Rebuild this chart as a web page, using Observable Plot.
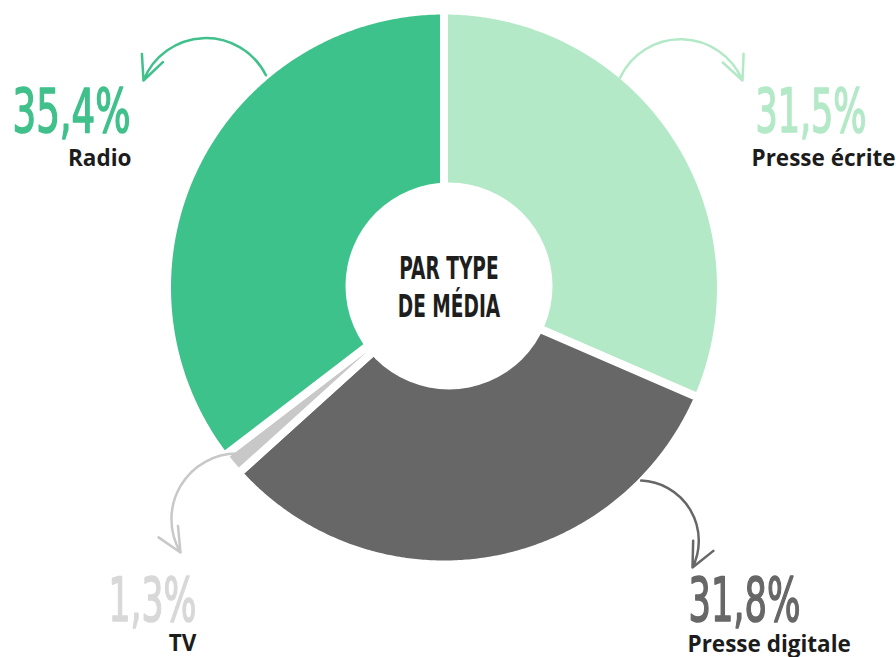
<!DOCTYPE html>
<html><head><meta charset="utf-8">
<script src="https://cdn.jsdelivr.net/npm/d3@7"></script>
<script src="https://cdn.jsdelivr.net/npm/@observablehq/plot@0.6"></script>
<style>html,body{margin:0;padding:0;background:#fff;} #chart svg{display:block}</style>
</head><body><div id="chart"></div>
<script>
// ---- data ----
const categories = ["Presse écrite", "Presse digitale", "TV", "Radio"];
const shares = [31.5, 31.8, 1.3, 35.4];
const shareLabels = ["31,5%", "31,8%", "1,3%", "35,4%"];
const sliceColors = ["#b3e9c7", "#676767", "#c8c8c8", "#3ec28b"];
const valueColors = ["#b3e9c7", "#676767", "#d8d8d8", "#40c08a"];
const arrowColors = ["#b3e9c7", "#676767", "#c8c8c8", "#40c08a"];
const centerTitle = "PAR TYPE\nDE MÉDIA";

// ---- layout ----
const W = 896, H = 657;
const cx = 443.5, cy = 287, R = 277, gap = 8;
const hole = {x: 448.5, y: 285.5, r: 103.5};
const layout = {
  "Presse écrite":   {a: 40,    r: 274, tip: [742, 80],  bend: 66,  nx: 755, lx: 751, anchor: "start", ny: 131, ly: 165, nw: 111},
  "Presse digitale": {a: 134.4, r: 276, tip: [692, 567], bend: 57,  nx: 688, lx: 687, anchor: "start", ny: 620, ly: 651, nw: 112},
  "TV":              {a: 231,   r: 264, tip: [180, 552], bend: -61, nx: 196, lx: 196, anchor: "end",   ny: 620, ly: 650, nw: 88},
  "Radio":           {a: 320,   r: 277, tip: [143, 80],  bend: -66, nx: 130, lx: 131, anchor: "end",   ny: 131, ly: 165, nw: 118}
};
const titleWidth = 103;

const arcs = d3.pie().sort(null).value(d => d)(shares);
const polar = (ang, r) => ({x: cx + r * Math.sin(ang), y: cy - r * Math.cos(ang)});

const marks = [];
arcs.forEach((arc, i) => {
  const pts = [{x: cx, y: cy}];
  const n = Math.max(4, Math.ceil((arc.endAngle - arc.startAngle) / (Math.PI / 360)));
  for (let k = 0; k <= n; k++) {
    pts.push(polar(arc.startAngle + (arc.endAngle - arc.startAngle) * k / n, R));
  }
  marks.push(Plot.line(pts, {x: "x", y: "y", fill: sliceColors[i], stroke: "white",
    strokeWidth: gap, curve: "linear-closed", strokeLinejoin: "round"}));
});
marks.push(Plot.dot([hole], {x: "x", y: "y", r: hole.r, fill: "white", stroke: "none"}));

categories.forEach((c, i) => {
  const L = layout[c];
  const s = polar(L.a * Math.PI / 180, L.r);
  marks.push(Plot.arrow([{x1: s.x, y1: s.y, x2: L.tip[0], y2: L.tip[1]}], {
    x1: "x1", y1: "y1", x2: "x2", y2: "y2", bend: L.bend, stroke: arrowColors[i],
    strokeWidth: 2.5, headLength: 16, headAngle: 50, insetStart: 0, insetEnd: 0}));
  marks.push(Plot.text([shareLabels[i]], {x: () => L.nx, y: () => L.ny, text: d => d,
    textAnchor: L.anchor, lineAnchor: "bottom", fill: valueColors[i],
    stroke: valueColors[i], strokeWidth: 1.6,
    fontFamily: "Liberation Sans Narrow, DejaVu Sans Condensed, sans-serif", fontSize: 60, fontWeight: 400}));
  marks.push(Plot.text([c], {x: () => L.lx, y: () => L.ly, text: d => d,
    textAnchor: L.anchor, lineAnchor: "bottom", fill: "#1c1c1c",
    fontFamily: "Open Sans, Nunito, sans-serif", fontSize: 22.5, fontWeight: 700}));
});
marks.push(Plot.text([centerTitle], {x: () => hole.x, y: () => 285, text: d => d,
  textAnchor: "middle", lineAnchor: "middle", lineHeight: 1.19, fill: "#1e1e1e",
  fontFamily: "Liberation Sans Narrow, DejaVu Sans Condensed, sans-serif", fontSize: 32, fontWeight: 700}));

const chart = Plot.plot({
  width: W, height: H, margin: 0,
  x: {domain: [0, W], range: [0, W], axis: null},
  y: {domain: [0, H], range: [0, H], axis: null},
  marks
});
document.getElementById("chart").appendChild(chart);

// condense the display numerals and the centre title horizontally (scale about the anchor)
function condense(el, target) {
  const w = el.getBBox().width;
  const sx = w > 0 ? target / w : 0.82;
  const t = el.getAttribute("transform") || "";
  el.setAttribute("transform", t + ` scale(${sx},1)`);
}
d3.select(chart).selectAll("text").each(function() {
  const t = this.textContent;
  const i = shareLabels.indexOf(t);
  if (i >= 0) condense(this, layout[categories[i]].nw);
  else if (t.startsWith("PAR TYPE")) condense(this, titleWidth);
});
</script></body></html>
